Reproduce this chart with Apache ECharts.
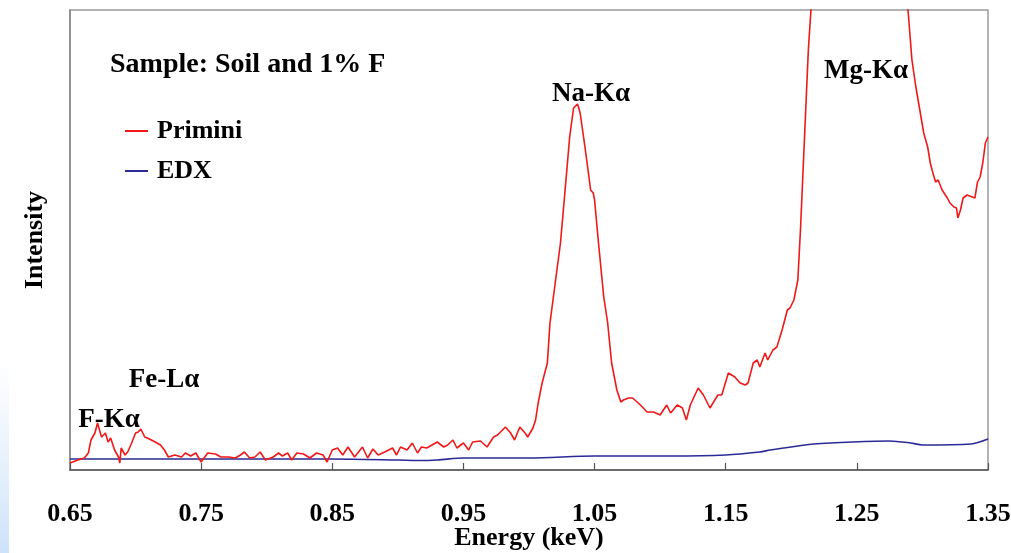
<!DOCTYPE html>
<html>
<head>
<meta charset="utf-8">
<script src="https://cdn.jsdelivr.net/npm/echarts@6/dist/echarts.min.js"></script>
<style>
html,body{margin:0;padding:0;background:#fff;}
#chart{width:1011px;height:553px;}
</style>
</head>
<body>
<div id="chart"></div>
<script>
// ---- data (energy in keV, intensity in arbitrary units) ----
const tickValues = [0.65, 0.75, 0.85, 0.95, 1.05, 1.15, 1.25, 1.35];

const primEnergy = [0.650,0.656,0.661,0.664,0.666,0.669,0.671,0.674,0.677,0.679,
0.681,0.684,0.687,0.688,0.689,0.692,0.694,0.697,0.700,0.702,
0.704,0.707,0.709,0.715,0.719,0.722,0.725,0.730,0.735,0.738,
0.742,0.746,0.750,0.755,0.761,0.765,0.771,0.776,0.780,0.783,
0.787,0.791,0.795,0.799,0.805,0.809,0.812,0.816,0.819,0.823,
0.828,0.833,0.838,0.843,0.846,0.850,0.854,0.858,0.862,0.867,
0.873,0.877,0.881,0.885,0.890,0.896,0.899,0.902,0.907,0.911,
0.915,0.918,0.922,0.926,0.930,0.935,0.938,0.942,0.945,0.950,
0.954,0.957,0.963,0.968,0.973,0.976,0.982,0.986,0.989,0.993,
0.997,0.999,1.003,1.005,1.007,1.010,1.014,1.016,1.020,1.024,
1.028,1.031,1.034,1.037,1.039,1.043,1.047,1.049,1.050,1.053,
1.057,1.060,1.063,1.067,1.070,1.072,1.076,1.079,1.085,1.090,
1.095,1.100,1.105,1.108,1.113,1.117,1.120,1.123,1.129,1.133,
1.138,1.144,1.147,1.152,1.157,1.161,1.165,1.167,1.171,1.174,
1.176,1.180,1.182,1.186,1.189,1.193,1.197,1.199,1.202,1.205,
1.207,1.209,1.211,1.213,1.215,1.217,1.250,1.287,1.289,1.292,
1.295,1.298,1.301,1.304,1.306,1.308,1.310,1.312,1.315,1.319,
1.321,1.324,1.326,1.327,1.329,1.331,1.334,1.338,1.340,1.342,
1.344,1.346,1.348,1.350];

const primIntensity = [7,10,12,17,30,37,47,33,37,28,
32,20,13,7,22,15,18,27,37,38,
41,33,32,28,25,20,13,15,13,17,
14,17,8,17,16,13,13,12,15,18,
12,13,18,10,13,17,14,17,10,17,
16,12,17,15,8,20,22,15,23,13,
23,12,21,15,18,22,15,23,20,27,
17,23,22,25,28,23,25,30,22,27,
20,28,29,23,33,35,43,37,30,43,
37,33,42,50,67,87,107,147,187,227,
287,333,362,366,357,320,280,277,270,227,
173,147,107,80,68,70,72,72,65,58,
58,55,65,57,65,62,50,65,82,75,
62,75,75,97,93,87,85,87,107,110,
103,117,110,120,123,140,160,162,170,190,
240,300,360,420,460,500,900,490,460,410,
383,360,337,323,307,297,288,290,280,272,
267,263,262,252,260,272,275,273,272,288,
293,307,327,333];

const edxEnergy = [0.650,0.700,0.750,0.800,0.850,0.900,0.915,0.930,0.950,1.000,
1.050,1.108,1.150,1.176,1.184,1.205,1.217,1.247,1.275,1.291,
1.300,1.337,1.350];
const edxIntensity = [11,11,11,11,11,10,9.5,10,12,12,
14,14,15,18,20,24,26,28,29,27,
25,26,31];

const seriesNames = ['Primini', 'EDX'];
const titleText = 'Sample: Soil and 1% F';
const peakLabels = ['Na-K\u03b1', 'Mg-K\u03b1', 'Fe-L\u03b1', 'F-K\u03b1'];

// ---- chart ----
const FONT = '"Liberation Serif", "Times New Roman", serif';
const zip = (a, b) => a.map((v, i) => [v, b[i]]);
const chart = echarts.init(document.getElementById('chart'), null, {renderer: 'canvas'});

const labelPos = [[591, 94], [866, 71], [164, 380], [109, 420]];

chart.setOption({
  animation: false,
  backgroundColor: '#ffffff',
  title: {
    text: titleText,
    left: 110, top: 51, padding: 0,
    textStyle: {fontFamily: FONT, fontWeight: 'bold', fontSize: 28, color: '#000'}
  },
  legend: {
    data: seriesNames,
    orient: 'vertical',
    left: 125, top: 118, padding: 0,
    itemWidth: 23, itemHeight: 2,
    itemGap: 14,
    icon: 'rect',
    textStyle: {fontFamily: FONT, fontWeight: 'bold', fontSize: 26, color: '#000', padding: [0, 0, 0, 4]}
  },
  grid: {left: 70, right: 23, top: 10, bottom: 83, outerBoundsMode: 'none', containLabel: false,
    show: true, borderColor: '#9a9a9a', borderWidth: 1.5},
  xAxis: {
    type: 'value', min: 0.65, max: 1.35,
    name: 'Energy (keV)', nameLocation: 'middle', nameGap: 55, nameMoveOverlap: false,
    nameTextStyle: {fontFamily: FONT, fontWeight: 'bold', fontSize: 26, color: '#000'},
    axisLine: {show: true, lineStyle: {color: '#555', width: 1.5}},
    axisTick: {show: true, inside: true, length: 7, customValues: tickValues, lineStyle: {color: '#555', width: 1.2}},
    axisLabel: {customValues: tickValues, margin: 31, formatter: v => v.toFixed(2),
      fontFamily: FONT, fontWeight: 'bold', fontSize: 26, color: '#000'},
    splitLine: {show: false}
  },
  yAxis: {
    type: 'value', min: 0, max: 460,
    name: 'Intensity', nameLocation: 'middle', nameGap: 22, nameRotate: 90, nameMoveOverlap: false,
    nameTextStyle: {fontFamily: FONT, fontWeight: 'bold', fontSize: 26, color: '#000'},
    axisLine: {show: true, lineStyle: {color: '#888', width: 1.5}},
    axisTick: {show: false}, axisLabel: {show: false}, splitLine: {show: false}
  },
  series: [
    {name: seriesNames[0], type: 'line', data: zip(primEnergy, primIntensity), showSymbol: false, clip: true,
      color: '#f01818', lineStyle: {width: 1.6, color: '#f01818'}, z: 3},
    {name: seriesNames[1], type: 'line', data: zip(edxEnergy, edxIntensity), showSymbol: false, clip: true, smooth: 0.3,
      color: '#2b2b97', lineStyle: {width: 1.6, color: '#2b2b97'}, z: 2}
  ],
  graphic: [
    {type: 'rect', left: 0, top: 360, z: -1, shape: {width: 9, height: 193},
      style: {fill: new echarts.graphic.LinearGradient(0, 0, 0, 1, [{offset: 0, color: 'rgba(215,232,250,0)'}, {offset: 1, color: 'rgba(205,226,250,1)'}])}}
  ].concat(peakLabels.map((t, i) => ({
    type: 'text', x: labelPos[i][0], y: labelPos[i][1], z: 10,
    style: {text: t, font: 'bold 27px ' + FONT, fill: '#000', align: 'center', verticalAlign: 'middle'}
  })))
});
</script>
</body>
</html>
